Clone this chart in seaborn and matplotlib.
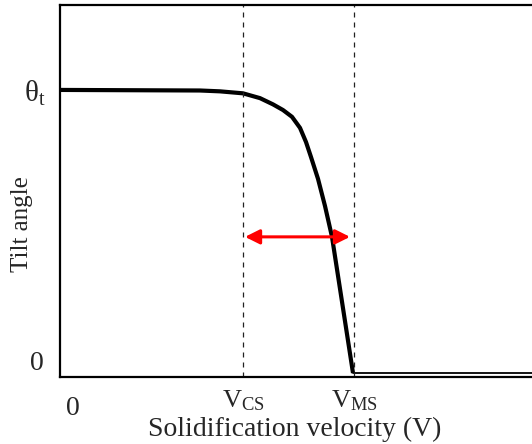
import pandas as pd
import matplotlib
matplotlib.use("Agg")
import matplotlib.pyplot as plt
import seaborn as sns

# ------------------------------------------------------------
# Tilt angle vs solidification velocity (schematic)
# ------------------------------------------------------------

# curve (x in arbitrary velocity units, y as fraction of theta_t)
velocity = [0.00, 1.40, 1.60, 1.83, 2.00, 2.13, 2.23, 2.32, 2.40, 2.46,
            2.51, 2.58, 2.65, 2.72, 2.93]
tilt = [1.000, 0.998, 0.995, 0.988, 0.971, 0.949, 0.929, 0.905, 0.866, 0.816,
        0.763, 0.686, 0.590, 0.481, 0.000]

# flat tail beyond V_MS
tail_velocity = [2.93, 4.80]
tail_tilt = [0.0, 0.0]

V_CS = 1.83
V_MS = 2.94
ARROW_Y = 0.481
THETA_T = 1.0

sns.set_theme(style="white")
plt.rcParams["font.family"] = ["Liberation Serif", "DejaVu Serif"]
plt.rcParams["mathtext.fontset"] = "custom"
plt.rcParams["mathtext.rm"] = "Liberation Serif"
plt.rcParams["mathtext.it"] = "Liberation Serif"

fig = plt.figure(figsize=(5.32, 4.44), dpi=100)
ax = fig.add_axes([60 / 532, 67 / 444, 472 / 532, 372 / 444])

df = pd.DataFrame({"v": velocity, "tilt": tilt})
sns.lineplot(data=df, x="v", y="tilt", sort=False, color="black", lw=3,
             ax=ax, solid_joinstyle="round", solid_capstyle="butt")
ax.plot(tail_velocity, tail_tilt, color="black", lw=1.3)

# dashed markers
for v in [V_CS, V_MS]:
    ax.axvline(v, color="#222222", lw=0.9, dashes=(4, 4))

# double-headed arrow
ax.annotate("", xy=(V_CS + 0.02, ARROW_Y), xytext=(V_MS - 0.04, ARROW_Y),
            arrowprops=dict(arrowstyle="<|-|>", color="red", lw=2.2,
                            mutation_scale=22, shrinkA=0, shrinkB=0))

ax.set_xlim(0, 4.72)
ax.set_ylim(-0.014, 1.30)

for s in ["left", "bottom", "top"]:
    ax.spines[s].set_color("black")
    ax.spines[s].set_linewidth(1.6)
ax.spines["right"].set_visible(False)

ax.set_xticks([V_CS, V_MS])
ax.set_xticklabels([r"V$_{\mathrm{CS}}$", r"V$_{\mathrm{MS}}$"], fontsize=19)
ax.tick_params(axis="x", length=0, pad=8)
ax.set_yticks([THETA_T])
ax.set_yticklabels([r"θ$_{\mathrm{t}}$"], fontsize=21)
ax.tick_params(axis="y", length=0, pad=10)

# origin labels
fig.text(44 / 532, 1 - 364 / 444, "0", fontsize=20, ha="right", va="center")
fig.text(73 / 532, 1 - 408 / 444, "0", fontsize=20, ha="center", va="center")

ax.set_xlabel("")
ax.set_ylabel("")
fig.text(295 / 532, 1 - 429 / 444, "Solidification velocity (V)", fontsize=20,
         ha="center", va="center")
fig.text(22 / 532, 1 - 224 / 444, "Tilt angle", fontsize=18, rotation=90,
         ha="center", va="center")

fig.savefig("out.png", dpi=100)
